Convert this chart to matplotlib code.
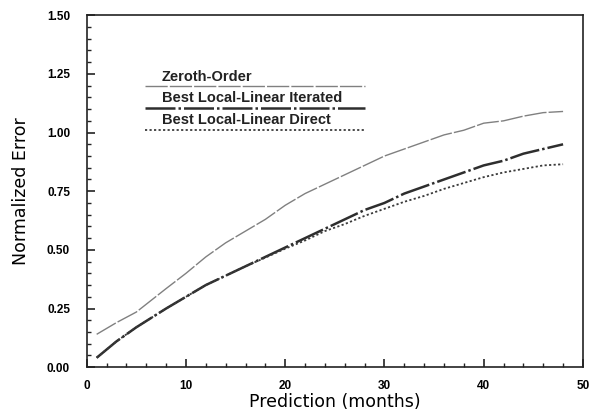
import matplotlib
matplotlib.use('Agg')
import matplotlib.pyplot as plt
from matplotlib.ticker import MultipleLocator

plt.rcParams['font.family'] = ['Liberation Sans', 'DejaVu Sans']

# Данi, зчитанi з графiка
months_zero = [1, 3, 5, 8, 10, 12, 14, 16, 18, 20, 22, 24, 26, 28, 30, 32, 34, 36, 38, 40, 42, 44, 46, 48]
zeroth = [0.14, 0.19, 0.235, 0.335, 0.40, 0.47, 0.53, 0.58, 0.63, 0.69, 0.74, 0.78, 0.82, 0.86, 0.90,
          0.93, 0.96, 0.99, 1.01, 1.04, 1.05, 1.07, 1.085, 1.09]

months_iter = [1, 3, 5, 8, 10, 12, 14, 16, 18, 20, 22, 24, 26, 28, 30, 32, 34, 36, 38, 40, 42, 44, 46, 48]
iterated = [0.04, 0.11, 0.17, 0.25, 0.30, 0.35, 0.39, 0.43, 0.47, 0.51, 0.55, 0.59, 0.63, 0.67, 0.70,
            0.74, 0.77, 0.80, 0.83, 0.86, 0.88, 0.91, 0.93, 0.95]

months_direct = [1, 3, 5, 8, 10, 12, 14, 16, 18, 20, 22, 24, 26, 28, 30, 32, 34, 36, 38, 40, 42, 44, 46, 48]
direct = [0.04, 0.11, 0.17, 0.25, 0.30, 0.35, 0.39, 0.43, 0.467, 0.505, 0.54, 0.58, 0.61, 0.645, 0.675,
          0.705, 0.73, 0.76, 0.785, 0.81, 0.83, 0.845, 0.86, 0.865]

labels = ['Zeroth-Order', 'Best Local-Linear Iterated', 'Best Local-Linear Direct']

fig = plt.figure(figsize=(5.9, 4.13), dpi=100)
ax = fig.add_axes([0.147, 0.111, 0.841, 0.852])

styles = [
    dict(color='#808080', lw=1.0, ls=(0, (16, 1.5))),
    dict(color='#2e2e2e', lw=1.8, ls=(0, (12, 1.2, 1, 1.2))),
    dict(color='#3a3a3a', lw=1.3, ls=(0, (1.2, 1.3))),
]

ax.plot(months_zero, zeroth, **styles[0])
ax.plot(months_iter, iterated, **styles[1])
ax.plot(months_direct, direct, **styles[2])

# Легенда: пiдпис над лiнiєю
text_y = [0.826, 0.765, 0.703]
line_y = [0.798, 0.736, 0.673]
for lab, ty, ly, st in zip(labels, text_y, line_y, styles):
    ax.text(0.151, ty, lab, transform=ax.transAxes, fontsize=10.5, fontweight='bold',
            va='center', ha='left', color='#222222')
    ax.plot([0.117, 0.56], [ly, ly], transform=ax.transAxes, **st)

ax.set_xlim(0, 50)
ax.set_ylim(0, 1.5)
ax.xaxis.set_major_locator(MultipleLocator(10))
ax.xaxis.set_minor_locator(MultipleLocator(2))
ax.yaxis.set_major_locator(MultipleLocator(0.25))
ax.yaxis.set_minor_locator(MultipleLocator(0.05))
ax.yaxis.set_major_formatter(plt.FormatStrFormatter('%.2f'))
ax.tick_params(which='both', direction='in', top=False, right=False, color='#222222')
ax.tick_params(which='major', length=6, width=1.2, labelsize=8.5)
ax.tick_params(axis='y', which='major', pad=12)
ax.tick_params(axis='x', which='major', pad=9)
ax.tick_params(which='minor', length=3, width=1.0)
for lbl in ax.get_xticklabels() + ax.get_yticklabels():
    lbl.set_fontweight('bold')
for s in ax.spines.values():
    s.set_linewidth(1.2)
    s.set_color('#222222')

ax.set_xlabel('Prediction (months)', fontsize=12.5, family='DejaVu Sans', labelpad=1)
ax.set_ylabel('Normalized Error', fontsize=12.5, family='DejaVu Sans', labelpad=12)

fig.savefig('out.png', dpi=100)
